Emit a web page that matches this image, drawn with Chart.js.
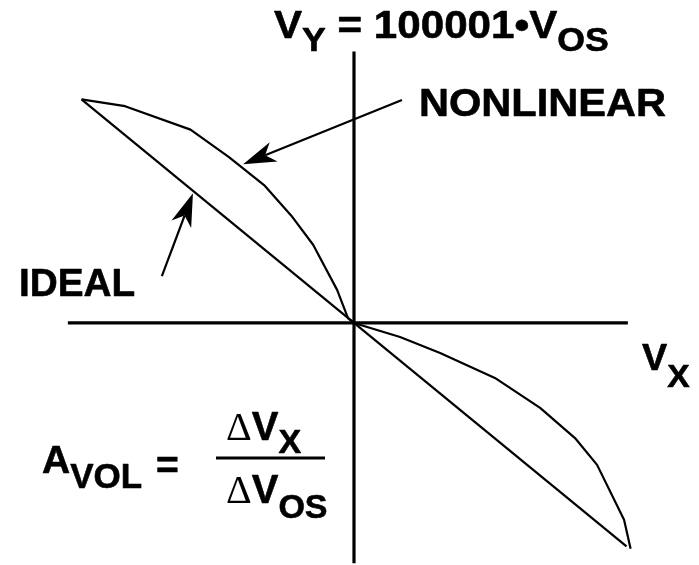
<!DOCTYPE html>
<html>
<head>
<meta charset="utf-8">
<script src="https://cdn.jsdelivr.net/npm/chart.js@4.4.1/dist/chart.umd.min.js"></script>
<style>
  html, body { margin: 0; padding: 0; background: #ffffff; }
  canvas { display: block; }
</style>
</head>
<body>
<canvas id="c" width="699" height="565"></canvas>
<script>
// Transfer characteristic: V_Y (vertical) versus V_X (horizontal), arbitrary units.
const idealX = [-10, 10];
const idealY = [10, -10];

const nonlinearX = [-10, -8.4, -6.0, -4.6, -3.3, -2.3, -1.5, -0.62, -0.22, 0, 1.69, 3.16, 5.17, 6.83, 8.11, 8.92, 9.91, 10.15];
const nonlinearY = [10, 9.7, 8.65, 7.43, 6.17, 4.8, 3.5, 1.48, 0.22, 0, -0.63, -1.34, -2.46, -3.8, -5.15, -6.35, -8.81, -10.1];

// Axis lines through the origin
const hAxisX = [-10.5, 10.05];
const hAxisY = [0, 0];
const vAxisX = [0, 0];
const vAxisY = [-10.75, 12.15];

// Pointer arrows: [tailX, tailY, tipX, tipY]
const nonlinearArrow = [1.76, 9.98, -4.07, 7.1];
const idealArrow = [-7.05, 2.1, -5.91, 5.8];

function pts(xs, ys) { return xs.map((x, i) => ({ x: x, y: ys[i] })); }

const BOLD = '"Liberation Sans", Arial, Helvetica, sans-serif';
const SERIF = '"Liberation Serif", "Times New Roman", serif';

// Text pieces: each run has text, font and baseline shift
const labels = [
  { x: 274, y: 38, sx: 1.08, runs: [
    { t: 'V', font: 'bold 39px ' + BOLD },
    { t: 'Y', font: 'bold 33px ' + BOLD, dy: 13 },
    { t: ' = 100001\u2022V', font: 'bold 39px ' + BOLD },
    { t: 'OS', font: 'bold 33px ' + BOLD, dy: 13 } ] },
  { x: 419, y: 116, sx: 1.065, runs: [ { t: 'NONLINEAR', font: 'bold 39px ' + BOLD } ] },
  { x: 19, y: 296, sx: 1.02, runs: [ { t: 'IDEAL', font: 'bold 38px ' + BOLD } ] },
  { x: 642, y: 370, sx: 1.05, runs: [
    { t: 'V', font: 'bold 36px ' + BOLD },
    { t: 'X', font: 'bold 32px ' + BOLD, dy: 17 } ] },
  { x: 42, y: 473, sx: 1.0, runs: [
    { t: 'A', font: 'bold 39px ' + BOLD },
    { t: 'VOL', font: 'bold 35px ' + BOLD, dy: 15 } ] },
  { x: 156, y: 478, sx: 1.0, runs: [ { t: '=', font: 'bold 39px ' + BOLD } ] },
  { x: 226, y: 440, sx: 1.0, runs: [
    { t: '\u0394', font: '40px ' + SERIF },
    { t: 'V', font: 'bold 40px ' + BOLD },
    { t: 'X', font: 'bold 34px ' + BOLD, dy: 13 } ] },
  { x: 226, y: 503, sx: 1.0, runs: [
    { t: '\u0394', font: '40px ' + SERIF },
    { t: 'V', font: 'bold 40px ' + BOLD },
    { t: 'OS', font: 'bold 34px ' + BOLD, dy: 15 } ] }
];
const fractionBar = { x1: 216, x2: 325, y: 458, w: 3 };

function drawArrow(ctx, chart, a) {
  const xs = chart.scales.x, ys = chart.scales.y;
  const x0 = xs.getPixelForValue(a[0]), y0 = ys.getPixelForValue(a[1]);
  const x1 = xs.getPixelForValue(a[2]), y1 = ys.getPixelForValue(a[3]);
  const ang = Math.atan2(y1 - y0, x1 - x0);
  const L = 33, W = 10.5, N = 0.72;
  const ux = Math.cos(ang), uy = Math.sin(ang);
  const px = -uy, py = ux;
  ctx.save();
  ctx.strokeStyle = '#000'; ctx.fillStyle = '#000'; ctx.lineWidth = 2.2;
  ctx.beginPath();
  ctx.moveTo(x0, y0);
  ctx.lineTo(x1 - ux * L * N, y1 - uy * L * N);
  ctx.stroke();
  ctx.beginPath();
  ctx.moveTo(x1, y1);
  ctx.lineTo(x1 - ux * L + px * W, y1 - uy * L + py * W);
  ctx.lineTo(x1 - ux * L * N, y1 - uy * L * N);
  ctx.lineTo(x1 - ux * L - px * W, y1 - uy * L - py * W);
  ctx.closePath();
  ctx.fill();
  ctx.restore();
}

function drawRuns(ctx, lab) {
  ctx.save();
  ctx.translate(lab.x, lab.y);
  ctx.scale(lab.sx, 1);
  ctx.fillStyle = '#000';
  ctx.strokeStyle = '#000';
  ctx.lineWidth = 0.6;
  ctx.lineJoin = 'round';
  ctx.textBaseline = 'alphabetic';
  ctx.textAlign = 'left';
  let cx = 0;
  for (const r of lab.runs) {
    ctx.font = r.font;
    ctx.fillText(r.t, cx, r.dy || 0);
    if (r.font.indexOf('bold') === 0) ctx.strokeText(r.t, cx, r.dy || 0);
    cx += ctx.measureText(r.t).width;
  }
  ctx.restore();
}

const annotations = {
  id: 'annotations',
  afterDatasetsDraw(chart) {
    const ctx = chart.ctx;
    drawArrow(ctx, chart, nonlinearArrow);
    drawArrow(ctx, chart, idealArrow);
    labels.forEach(l => drawRuns(ctx, l));
    ctx.save();
    ctx.fillStyle = '#000';
    ctx.fillRect(fractionBar.x1, fractionBar.y - fractionBar.w / 2, fractionBar.x2 - fractionBar.x1, fractionBar.w);
    ctx.restore();
  }
};

const lineStyle = { showLine: true, pointRadius: 0, fill: false, borderColor: '#000', borderJoinStyle: 'round', tension: 0 };

new Chart(document.getElementById('c'), {
  type: 'scatter',
  data: {
    datasets: [
      Object.assign({ label: 'hAxis', data: pts(hAxisX, hAxisY), borderWidth: 3.2 }, lineStyle),
      Object.assign({ label: 'vAxis', data: pts(vAxisX, vAxisY), borderWidth: 3.2 }, lineStyle),
      Object.assign({ label: 'IDEAL', data: pts(idealX, idealY), borderWidth: 2.2 }, lineStyle),
      Object.assign({ label: 'NONLINEAR', data: pts(nonlinearX, nonlinearY), borderWidth: 2.2 }, lineStyle)
    ]
  },
  options: {
    responsive: false,
    animation: false,
    layout: { padding: 0 },
    plugins: { legend: { display: false }, tooltip: { enabled: false } },
    scales: {
      x: { type: 'linear', display: false, min: -12.99, max: 12.66 },
      y: { type: 'linear', display: false, min: -10.83, max: 14.45 }
    }
  },
  plugins: [annotations]
});
</script>
</body>
</html>
